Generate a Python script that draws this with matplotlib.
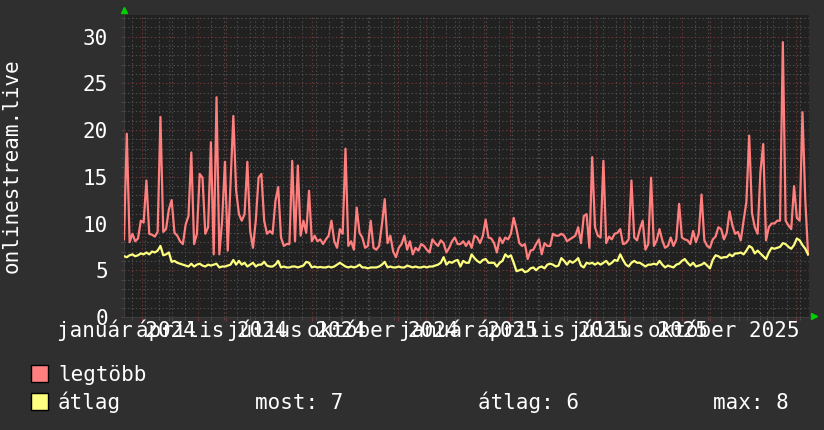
import numpy as np
import matplotlib
matplotlib.use("Agg")
import matplotlib.pyplot as plt
import matplotlib.dates as mdates
from matplotlib.patches import Rectangle

# === Adatok (3 naponként) ===
start_date = np.datetime64('2024-01-13')
step_days = 3

legtobb = [
    8.3, 19.6, 8.0, 8.9, 8.1, 8.4, 10.3, 10.1, 14.6, 8.9,
    8.8, 8.6, 9.1, 21.4, 9.1, 9.4, 11.5, 12.5, 9.0, 8.7,
    8.1, 7.8, 9.9, 10.8, 17.6, 7.8, 8.9, 15.3, 14.9, 8.9,
    9.6, 18.7, 6.7, 23.5, 6.7, 10.3, 16.6, 7.1, 14.2, 21.5,
    13.5, 11.0, 10.3, 11.0, 16.6, 9.2, 7.4, 10.3, 14.9, 15.3,
    10.3, 8.9, 9.2, 8.9, 12.4, 13.9, 8.5, 7.6, 7.8, 7.8,
    16.7, 8.1, 16.2, 8.7, 10.3, 9.0, 13.5, 8.1, 8.7, 8.1,
    8.3, 7.8, 8.3, 8.7, 10.3, 8.1, 7.4, 9.4, 8.9, 18.0,
    7.6, 8.1, 7.2, 11.7, 9.0, 8.5, 7.4, 7.6, 10.3, 7.4,
    7.2, 7.6, 9.9, 12.6, 7.9, 8.7, 7.0, 6.4, 7.4, 7.8,
    8.7, 7.2, 8.1, 6.7, 7.4, 7.1, 7.8, 7.6, 7.2, 6.9,
    8.3, 7.9, 7.6, 8.2, 7.9, 6.9, 7.4, 8.1, 8.5, 7.8,
    7.8, 8.1, 7.6, 8.1, 7.4, 8.7, 8.5, 7.9, 8.7, 10.4,
    8.5, 8.4, 7.9, 6.9, 8.5, 7.9, 8.5, 8.3, 8.9, 10.6,
    9.4, 7.9, 7.6, 7.8, 6.2, 7.1, 7.2, 7.8, 8.3, 6.7,
    7.9, 7.6, 7.6, 8.9, 8.7, 8.7, 8.9, 8.7, 8.1, 8.3,
    8.5, 8.7, 9.6, 7.9, 10.8, 11.0, 7.4, 17.1, 9.6, 8.7,
    8.5, 16.7, 7.9, 8.6, 8.3, 8.9, 9.0, 9.4, 7.8, 7.9,
    8.3, 14.6, 8.5, 8.2, 9.4, 10.3, 7.2, 7.8, 14.9, 7.6,
    8.2, 9.4, 8.2, 7.4, 7.6, 8.5, 7.6, 8.3, 12.1, 8.5,
    8.3, 8.2, 7.8, 9.2, 8.0, 8.9, 13.1, 8.2, 7.6, 7.4,
    8.3, 8.6, 9.6, 9.4, 8.3, 9.0, 11.3, 9.8, 8.9, 9.1,
    8.2, 10.3, 12.3, 19.4, 11.1, 9.6, 8.9, 15.5, 18.5, 8.2,
    9.6, 10.0, 10.0, 10.3, 10.3, 29.4, 10.3, 9.8, 9.4, 14.0,
    10.6, 10.3, 21.9, 12.6, 6.7,
]

atlag = [
    6.5, 6.4, 6.6, 6.7, 6.5, 6.6, 6.8, 6.7, 6.9, 6.7,
    7.0, 6.9, 7.1, 7.6, 6.6, 6.7, 6.9, 5.9, 6.0, 5.8,
    5.7, 5.6, 5.5, 5.4, 5.7, 5.4, 5.6, 5.7, 5.5, 5.4,
    5.6, 5.5, 5.6, 5.7, 5.3, 5.4, 5.4, 5.5, 5.6, 6.1,
    5.6, 6.0, 5.6, 5.8, 5.4, 5.6, 5.8, 5.4, 5.6, 5.6,
    5.9, 5.5, 5.4, 5.4, 5.6, 6.0, 5.3, 5.4, 5.3, 5.3,
    5.4, 5.4, 5.3, 5.4, 5.5, 5.9, 5.8, 5.3, 5.4, 5.3,
    5.35, 5.3, 5.3, 5.4, 5.3, 5.4, 5.6, 5.8, 5.6, 5.4,
    5.3, 5.4, 5.3, 5.4, 5.6, 5.3, 5.3, 5.2, 5.3, 5.3,
    5.3, 5.4, 5.6, 5.9, 5.3, 5.4, 5.3, 5.3, 5.4, 5.3,
    5.3, 5.5, 5.4, 5.3, 5.4, 5.3, 5.3, 5.4, 5.3, 5.4,
    5.4, 5.5, 5.6, 5.8, 6.4, 5.6, 5.9, 5.8, 6.0, 6.1,
    5.4, 6.0, 5.8, 5.8, 6.7, 6.3, 6.0, 5.8, 6.1, 6.2,
    5.8, 5.8, 5.8, 5.4, 5.8, 6.0, 6.7, 6.4, 6.6, 5.8,
    4.9, 5.0, 5.1, 4.8, 4.9, 5.2, 5.3, 5.0, 5.3, 5.4,
    5.2, 5.6, 5.7, 5.6, 5.4, 5.5, 6.3, 6.0, 5.6, 6.0,
    5.8, 6.0, 6.3, 5.5, 5.3, 5.8, 5.7, 5.8, 5.6, 5.8,
    5.6, 5.8, 6.0, 5.6, 5.8, 6.1, 6.0, 6.7, 6.1, 5.6,
    5.4, 5.8, 6.0, 5.8, 5.8, 5.6, 5.4, 5.6, 5.6, 5.7,
    5.6, 6.0, 5.6, 5.3, 5.5, 5.4, 5.3, 5.6, 5.7, 6.0,
    6.2, 5.8, 5.5, 5.8, 5.4, 5.5, 5.6, 5.8, 5.5, 5.2,
    6.1, 6.6, 6.5, 6.3, 6.4, 6.4, 6.7, 6.5, 6.8, 6.8,
    6.9, 6.7, 7.1, 7.6, 7.4, 6.8, 7.1, 6.8, 6.5, 6.2,
    6.9, 7.4, 7.3, 7.4, 7.5, 7.9, 7.8, 7.5, 7.3, 7.7,
    8.4, 8.2, 7.7, 7.3, 6.7,
]

quarter_labels = ["január 2024", "április 2024", "július 2024", "október 2024",
                  "január 2025", "április 2025", "július 2025", "október 2025"]
quarter_dates = ['2024-01-16', '2024-04-16', '2024-07-16', '2024-10-16',
                 '2025-01-16', '2025-04-16', '2025-07-16', '2025-10-16']

series_names = ["legtöbb", "átlag"]
stat_text = ["most: 7", "átlag: 6", "max: 8"]

# === Színek ===
bg_color = '#2f2f2f'
canvas_color = '#212121'
red_line = '#ff7f7f'
yellow_line = '#ffff7f'
major_grid = '#743636'
minor_grid = '#505050'
text_color = '#ffffff'
font = 'DejaVu Sans Mono'
fsize = 15

dates = start_date + np.arange(len(legtobb)) * np.timedelta64(step_days, 'D')

W, H = 824, 430
fig = plt.figure(figsize=(W / 100, H / 100), dpi=100, facecolor=bg_color)
left, right, top, bottom = 124, 809, 15, 317
ax = fig.add_axes([left / W, 1 - bottom / H, (right - left) / W, (bottom - top) / H])
ax.set_facecolor(canvas_color)

ax.plot(dates, legtobb, color=red_line, lw=1.6, zorder=3)
ax.plot(dates, atlag, color=yellow_line, lw=1.6, zorder=4)

ax.set_xlim(np.datetime64('2024-01-13'), np.datetime64('2026-01-15'))
ax.set_ylim(0, 32.3)

# === Rács ===
ax.yaxis.set_major_locator(matplotlib.ticker.MultipleLocator(5))
ax.yaxis.set_minor_locator(matplotlib.ticker.MultipleLocator(1))
ax.xaxis.set_major_locator(mdates.MonthLocator())
minor_days = np.arange(np.datetime64('2024-01-08'), np.datetime64('2026-02-01'), np.timedelta64(14, 'D'))
ax.xaxis.set_minor_locator(matplotlib.ticker.FixedLocator(mdates.date2num(minor_days)))
ax.set_axisbelow(True)
ax.grid(which='minor', color=minor_grid, lw=0.8, linestyle=(0, (1.2, 2.2)))
ax.grid(which='major', color=major_grid, lw=0.8, linestyle=(0, (1.2, 2.2)))

ax.set_xticklabels([])
ax.tick_params(axis='x', which='major', length=3, color=major_grid, labelbottom=False)
ax.tick_params(axis='x', which='minor', length=2, color=minor_grid)
ax.tick_params(axis='y', which='major', length=2, color=major_grid, pad=9.5,
               labelcolor=text_color, labelsize=fsize)
ax.tick_params(axis='y', which='minor', length=2, color=minor_grid)
for lab in ax.get_yticklabels():
    lab.set_fontfamily(font)

for s in ['top', 'right']:
    ax.spines[s].set_visible(False)
for s in ['left', 'bottom']:
    ax.spines[s].set_color('#3c3c3c')

# nyilak
ax.plot([0], [1.017], marker='^', color='#00d000', ms=5, transform=ax.transAxes, clip_on=False)
ax.plot([1.008], [0.003], marker='>', color='#00d000', ms=5, transform=ax.transAxes, clip_on=False)

# === Negyedéves feliratok (átfedésben, mint az eredetin) ===
for d, lab in zip(quarter_dates, quarter_labels):
    ax.text(mdates.date2num(np.datetime64(d)), -0.066, lab, transform=ax.get_xaxis_transform(),
            ha='center', va='baseline', color=text_color, fontsize=fsize, family=font, clip_on=False)

fig.text(12 / W, 1 - 166 / H, "onlinestream.live", rotation=90, ha='center', va='center',
         color=text_color, fontsize=fsize, family=font)

# === Jelmagyarázat ===
for k, (name, col) in enumerate(zip(series_names, [red_line, yellow_line])):
    y0 = 365 + k * 28
    fig.patches.append(Rectangle((31 / W, 1 - (y0 + 17) / H), 17 / W, 17 / H, transform=fig.transFigure,
                                 facecolor=col, edgecolor='black', lw=1.0))
    fig.text(58 / W, 1 - (y0 + 16) / H, name, ha='left', va='baseline',
             color=text_color, fontsize=fsize, family=font)

for x0, t in zip([255, 478, 713], stat_text):
    fig.text(x0 / W, 1 - 409 / H, t, ha='left', va='baseline', color=text_color, fontsize=fsize, family=font)

fig.savefig('out.png', dpi=100, facecolor=bg_color)
